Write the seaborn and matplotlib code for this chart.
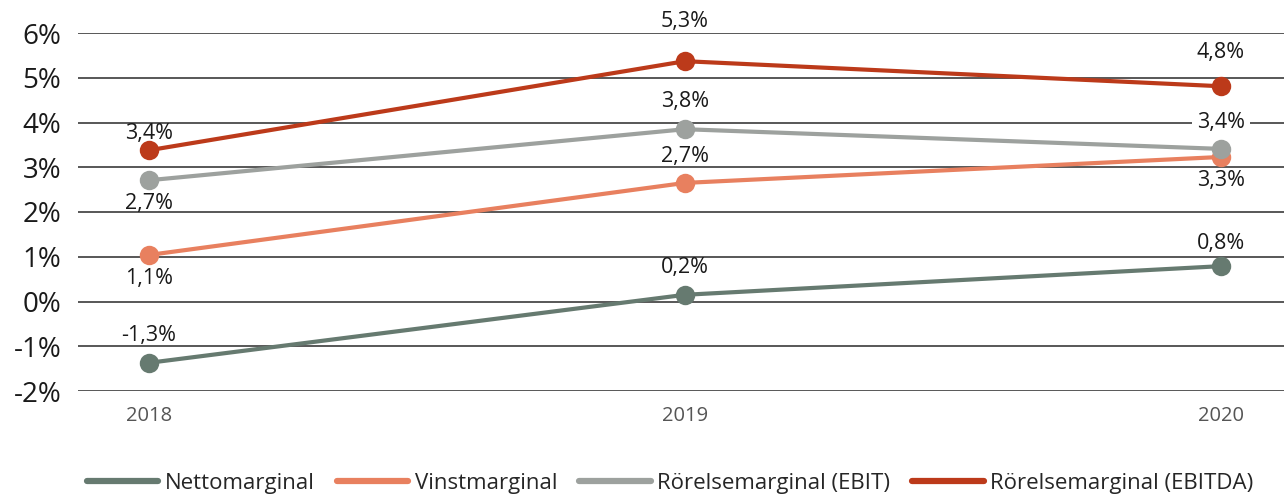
import matplotlib
matplotlib.use("Agg")
import matplotlib.pyplot as plt
import seaborn as sns
import pandas as pd

years = ["2018", "2019", "2020"]
series_names = ["Nettomarginal", "Vinstmarginal", "Rörelsemarginal (EBIT)", "Rörelsemarginal (EBITDA)"]
netto = [-1.37, 0.15, 0.79]
vinst = [1.04, 2.65, 3.23]
ebit = [2.71, 3.85, 3.41]
ebitda = [3.38, 5.37, 4.81]
netto_labels = ["-1,3%", "0,2%", "0,8%"]
vinst_labels = ["1,1%", "2,7%", "3,3%"]
ebit_labels = ["2,7%", "3,8%", "3,4%"]
ebitda_labels = ["3,4%", "5,3%", "4,8%"]
y_ticks = [-2, -1, 0, 1, 2, 3, 4, 5, 6]
y_tick_labels = ["-2%", "-1%", "0%", "1%", "2%", "3%", "4%", "5%", "6%"]

colors = ["#667a70", "#e8805f", "#9da19e", "#bc3a1a"]
values = [netto, vinst, ebit, ebitda]
labels = [netto_labels, vinst_labels, ebit_labels, ebitda_labels]
# label offsets in pixels (positive = above the point)
offsets_px = [[27, 27, 23], [-24, 26, -24], [-23, 28, 26], [17, 40, 34]]
# labels that sit on a gridline get a white background
label_box = [[False, False, False], [False, False, False], [False, False, True], [False, False, False]]

rows = []
for name, vals in zip(series_names, values):
    for i, v in enumerate(vals):
        rows.append({"x": i, "year": years[i], "value": v, "series": name})
df = pd.DataFrame(rows)

sns.set_theme(style="white")
plt.rcParams["font.family"] = ["Open Sans", "DejaVu Sans"]

fig = plt.figure(figsize=(12.84, 4.99), dpi=100)
ax = fig.add_axes([78 / 1284, 108 / 499, (1284 - 78) / 1284, 358 / 499])

ax.set_ylim(-2, 6)
ax.set_xlim(-71 / 536, 2 + 63 / 536)
ax.set_yticks(y_ticks)
ax.set_yticklabels(y_tick_labels, fontsize=20, color="#1a1a1a")
ax.set_xticks(range(len(years)))
ax.set_xticklabels(years, fontsize=14.5, color="#555555")
ax.tick_params(axis="y", length=0, pad=12)
ax.tick_params(axis="x", length=0, pad=11)
for s in ax.spines.values():
    s.set_visible(False)
for t in y_ticks:
    ax.axhline(t, color="#2a2a2a", lw=1.1, zorder=0)

sns.lineplot(data=df, x="x", y="value", hue="series", hue_order=series_names,
             palette=colors, marker="o", markersize=14, markeredgewidth=0,
             linewidth=3, ax=ax, legend=True, zorder=3)

for vals, labs, offs, boxes in zip(values, labels, offsets_px, label_box):
    for i, (v, lab, o, b) in enumerate(zip(vals, labs, offs, boxes)):
        kw = {}
        if b:
            kw["bbox"] = dict(boxstyle="square,pad=0.25", fc="white", ec="none")
        ax.annotate(lab, (i, v), xytext=(0, o * 0.72), textcoords="offset points",
                    ha="center", va="center", fontsize=15.5, color="#1a1a1a",
                    zorder=2, **kw)

ax.set_xlabel("")
ax.set_ylabel("")
leg = ax.legend(loc="lower center", ncol=4, frameon=False, fontsize=16,
                handlelength=3.2, columnspacing=1.0, handletextpad=0.3)
leg.set_bbox_to_anchor((0.522, -0.03), transform=fig.transFigure)
for line in leg.get_lines():
    line.set_linewidth(4.5)
    line.set_marker("")
    line.set_solid_capstyle("round")

fig.savefig("out.png", dpi=100)
